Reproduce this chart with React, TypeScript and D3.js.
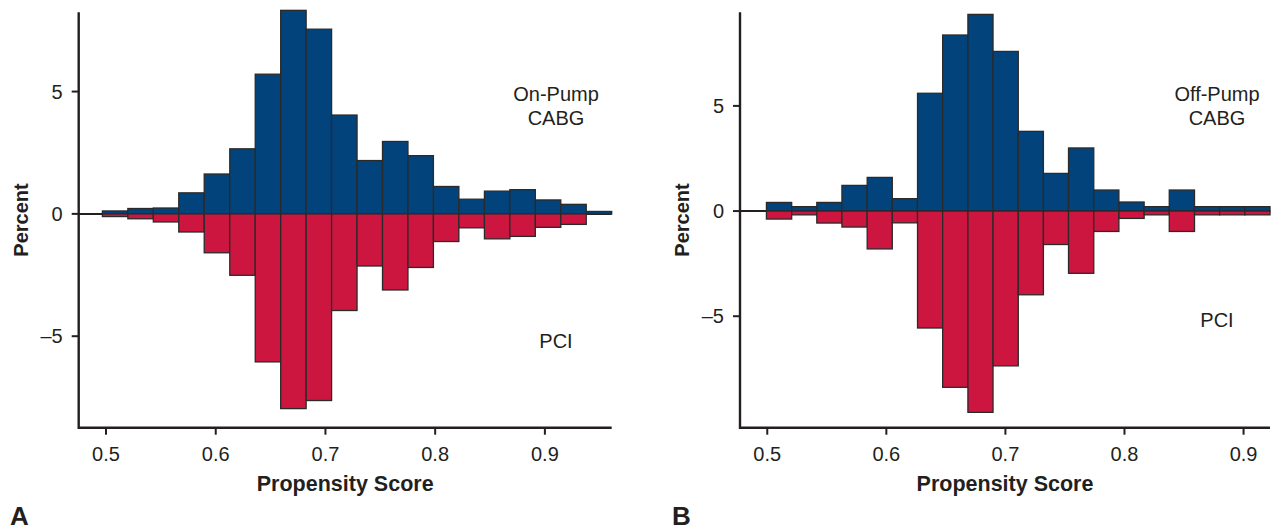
import React from "react";
import * as d3 from "d3";

// ---- Data ----
// Panel A: On-Pump CABG vs PCI (bin edges of propensity score)
const binEdgesA = [
  0.4967, 0.5199, 0.5431, 0.5663, 0.5895, 0.6128, 0.636, 0.6592, 0.6824, 0.7056,
  0.7288, 0.752, 0.7752, 0.7984, 0.8216, 0.8449, 0.8681, 0.8913, 0.9145, 0.9377, 0.9609,
];
const onPumpValues = [
  0.12, 0.22, 0.24, 0.86, 1.63, 2.66, 5.71, 8.32, 7.55, 4.04,
  2.18, 2.96, 2.38, 1.12, 0.6, 0.93, 0.99, 0.57, 0.39, 0.1,
];
const pciValuesA = [
  -0.11, -0.2, -0.33, -0.74, -1.59, -2.51, -6.05, -7.96, -7.63, -3.95,
  -2.13, -3.11, -2.19, -1.13, -0.57, -1.02, -0.92, -0.55, -0.43, 0,
];

// Panel B: Off-Pump CABG vs PCI
const binEdgesB = [
  0.4993, 0.5205, 0.5416, 0.5627, 0.5839, 0.605, 0.6262, 0.6473, 0.6685, 0.6896,
  0.7108, 0.7319, 0.753, 0.7742, 0.7953, 0.8165, 0.8376, 0.8588, 0.8799, 0.9011, 0.9222,
];
const offPumpValues = [
  0.41, 0.21, 0.41, 1.22, 1.6, 0.59, 5.6, 8.37, 9.35, 7.59,
  3.79, 1.79, 3.0, 1.0, 0.43, 0.21, 1.0, 0.21, 0.21, 0.21,
];
const pciValuesB = [
  -0.38, -0.18, -0.57, -0.76, -1.8, -0.56, -5.56, -8.38, -9.57, -7.36,
  -3.98, -1.59, -2.96, -0.97, -0.35, -0.18, -0.97, -0.18, -0.18, -0.18,
];

const xTicks = [0.5, 0.6, 0.7, 0.8, 0.9];
const xTickLabels = ["0.5", "0.6", "0.7", "0.8", "0.9"];
const yTicks = [-5, 0, 5];
const yTickLabels = ["\u20135", "0", "5"];

const BLUE = "#03437b";
const RED = "#cc163f";
const INK = "#231f20";
const FONT = "'Liberation Sans', Arial, Helvetica, sans-serif";

type PanelProps = {
  edges: number[];
  up: number[];
  down: number[];
  left: number;
  right: number;
  top: number;
  bottom: number;
  xDomain: [number, number];
  yDomain: [number, number];
  upLabel: string[];
  labelX: number;
  pciY: number;
  letter: string;
  letterX: number;
};

function Panel(p: PanelProps) {
  const x = d3.scaleLinear().domain(p.xDomain).range([p.left, p.right]);
  const y = d3.scaleLinear().domain(p.yDomain).range([p.bottom, p.top]);
  const y0 = y(0);
  const bins = d3.range(p.up.length);
  return (
    <g>
      {/* zero line */}
      <line x1={p.left} x2={p.right} y1={y0} y2={y0} stroke={INK} strokeWidth={2} />
      {bins.map((i) => {
        const x0 = x(p.edges[i]);
        const x1 = x(p.edges[i + 1]);
        const yu = y(p.up[i]);
        return (
          <rect key={"u" + i} x={x0} y={yu} width={x1 - x0} height={Math.max(0, y0 - yu)}
            fill={BLUE} stroke="#2a2a2a" strokeWidth={1.3} />
        );
      })}
      {bins.map((i) => {
        if (p.down[i] === 0) return null;
        const x0 = x(p.edges[i]);
        const x1 = x(p.edges[i + 1]);
        const yd = y(p.down[i]);
        return (
          <rect key={"d" + i} x={x0} y={y0} width={x1 - x0} height={Math.max(0, yd - y0)}
            fill={RED} stroke="#2a2a2a" strokeWidth={1.3} />
        );
      })}
      {/* axes */}
      <path d={`M${p.left},${p.top} V${p.bottom} H${p.right}`} fill="none" stroke={INK} strokeWidth={2.4} />
      {yTicks.map((t, i) => (
        <g key={"yt" + t}>
          <line x1={p.left - 7} x2={p.left} y1={y(t)} y2={y(t)} stroke={INK} strokeWidth={2} />
          <text x={p.left - 16} y={y(t)} dy="0.36em" textAnchor="end" fontSize={20} fill={INK} fontFamily={FONT}>
            {yTickLabels[i]}
          </text>
        </g>
      ))}
      {xTicks.map((t, i) => (
        <g key={"xt" + t}>
          <line x1={x(t)} x2={x(t)} y1={p.bottom} y2={p.bottom + 7} stroke={INK} strokeWidth={2} />
          <text x={x(t)} y={461} textAnchor="middle" fontSize={20} fill={INK} fontFamily={FONT}>
            {xTickLabels[i]}
          </text>
        </g>
      ))}
      <text x={(p.left + p.right) / 2} y={491} textAnchor="middle" fontSize={21.5} fontWeight="bold" fill={INK} fontFamily={FONT}>
        Propensity Score
      </text>
      <text transform={`translate(${p.left - 58},${(p.top + p.bottom) / 2}) rotate(-90)`} dy="0.35em"
        textAnchor="middle" fontSize={20} fontWeight="bold" fill={INK} fontFamily={FONT}>
        Percent
      </text>
      <text x={p.labelX} y={100.5} textAnchor="middle" fontSize={20} fill={INK} fontFamily={FONT}>
        {p.upLabel[0]}
      </text>
      <text x={p.labelX} y={125} textAnchor="middle" fontSize={20} fill={INK} fontFamily={FONT}>
        {p.upLabel[1]}
      </text>
      <text x={p.labelX} y={p.pciY} textAnchor="middle" fontSize={20} fill={INK} fontFamily={FONT}>
        PCI
      </text>
      <text x={p.letterX} y={525} fontSize={26} fontWeight="bold" fill={INK} fontFamily={FONT}>
        {p.letter}
      </text>
    </g>
  );
}

export default function App() {
  return (
    <svg width={1277} height={531} style={{ position: "absolute", left: 0, top: 0, background: "#fff" }}>
      <rect width={1277} height={531} fill="#fff" />
      <Panel edges={binEdgesA} up={onPumpValues} down={pciValuesA}
        left={78.7} right={611.7} top={12.3} bottom={427.7}
        xDomain={[0.4751, 0.9609]} yDomain={[-8.74, 8.24]}
        upLabel={["On-Pump", "CABG"]} labelX={556} pciY={348} letter="A" letterX={10} />
      <Panel edges={binEdgesB} up={offPumpValues} down={pciValuesB}
        left={740} right={1270} top={12.3} bottom={427.7}
        xDomain={[0.4771, 0.9222]} yDomain={[-10.3, 9.45]}
        upLabel={["Off-Pump", "CABG"]} labelX={1217} pciY={327} letter="B" letterX={672} />
    </svg>
  );
}
